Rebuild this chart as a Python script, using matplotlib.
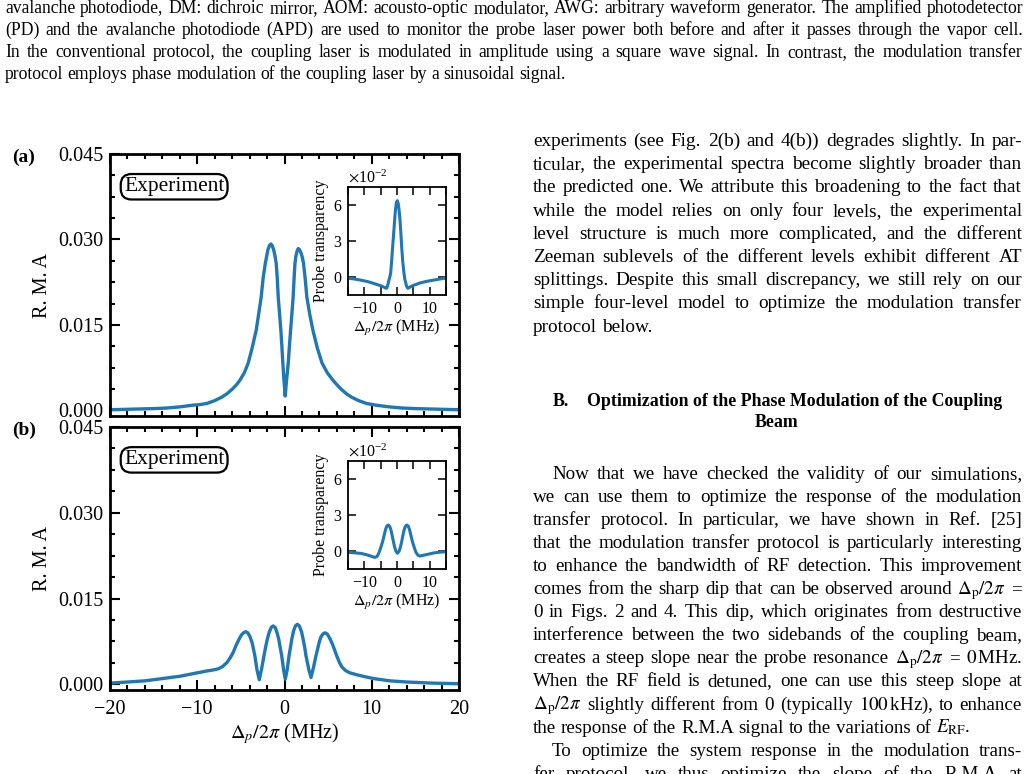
import matplotlib
matplotlib.use("Agg")
import matplotlib.pyplot as plt
from matplotlib.ticker import FixedLocator, MultipleLocator, AutoMinorLocator, FormatStrFormatter, ScalarFormatter

plt.rcParams['font.family'] = ['Liberation Serif', 'DejaVu Serif']
plt.rcParams['mathtext.fontset'] = 'stix'

# ---- data ----
det_a = [-20, -17.5, -15, -13.5, -12, -10.5, -9.7, -8.9, -8, -7.2, -6.6, -6.0, -5.5, -5.1, -4.6,
         -4.16, -3.7, -3.24, -2.95, -2.67, -2.45, -2.2, -1.9, -1.7, -1.55, -1.4, -1.25, -1.1,
         -0.95, -0.83, -0.72, -0.57, -0.42, -0.3, -0.19, -0.05, 0.08, 0.22, 0.43, 0.56, 0.7,
         0.85, 0.99, 1.1, 1.2, 1.3, 1.45, 1.57, 1.72, 1.9, 2.05, 2.18, 2.38, 2.56, 2.9, 3.25,
         3.75, 4.3, 4.9, 5.54, 6.0, 6.5, 7.1, 7.7, 8.5, 9.4, 10.5, 12, 13.5, 15, 17.5, 20]
rma_a = [0.0001, 0.0002, 0.0003, 0.0004, 0.0006, 0.0009, 0.0010, 0.0012, 0.0017, 0.0023,
         0.0029, 0.0037, 0.0045, 0.0053, 0.0066, 0.0083, 0.0110, 0.0141, 0.0170, 0.0199,
         0.0232, 0.0258, 0.0282, 0.0290, 0.0292, 0.0289, 0.0282, 0.0272, 0.0258, 0.0232,
         0.0199, 0.0170, 0.0141, 0.0112, 0.0083, 0.0050, 0.0025, 0.0050, 0.0083, 0.0112,
         0.0141, 0.0170, 0.0199, 0.0232, 0.0258, 0.0270, 0.0280, 0.0284, 0.0282, 0.0276,
         0.0268, 0.0258, 0.0230, 0.0199, 0.0168, 0.0141, 0.0110, 0.0083, 0.0066, 0.0053,
         0.0045, 0.0037, 0.0029, 0.0023, 0.0017, 0.0012, 0.0009, 0.0006, 0.0004, 0.0003,
         0.0002, 0.0001]

det_b = [-20, -18, -16, -14, -12, -11, -10, -9, -8.2, -7.6, -7.1, -6.6, -6.2, -5.9, -5.55, -5.2,
         -4.95, -4.7, -4.45, -4.2, -3.95, -3.7, -3.4, -3.15, -2.89, -2.65, -2.35, -2.15, -1.97,
         -1.75, -1.5, -1.28, -1.05, -0.85, -0.65, -0.5, -0.32, -0.1, 0.09, 0.3, 0.52, 0.7, 0.85,
         1.05, 1.25, 1.47, 1.7, 1.95, 2.12, 2.3, 2.46, 2.8, 3.04, 3.3, 3.61, 3.8, 3.95, 4.15,
         4.4, 4.64, 4.9, 5.2, 5.5, 5.98, 6.3, 6.6, 7.0, 7.5, 8.2, 9.0, 10.2, 12.1, 14, 17, 20]
rma_b = [0.0002, 0.0004, 0.0006, 0.0010, 0.0014, 0.0017, 0.0020, 0.0023, 0.0025, 0.0027,
         0.0031, 0.0038, 0.0047, 0.0055, 0.0068, 0.0079, 0.0086, 0.0090, 0.0092, 0.0090,
         0.0083, 0.0072, 0.0050, 0.0025, 0.0008, 0.0025, 0.0050, 0.0066, 0.0079, 0.0091,
         0.0100, 0.0102, 0.0099, 0.0090, 0.0078, 0.0065, 0.0050, 0.0025, 0.0009, 0.0025,
         0.0050, 0.0066, 0.0080, 0.0094, 0.0102, 0.0105, 0.0102, 0.0092, 0.0080, 0.0066,
         0.0050, 0.0025, 0.0012, 0.0028, 0.0050, 0.0062, 0.0072, 0.0082, 0.0088, 0.0090,
         0.0088, 0.0080, 0.0070, 0.0050, 0.0038, 0.0030, 0.0024, 0.0020, 0.0017, 0.0014,
         0.0010, 0.0006, 0.0004, 0.0002, 0.0001]

ins_det_a = [-15, -13, -11.3, -9, -7.2, -6, -4.7, -4.0, -3.5, -3.2, -2.9, -2.6, -2.3, -1.94,
             -1.65, -1.33, -1.0, -0.72, -0.5, -0.3, -0.15, 0.1, 0.35, 0.5, 0.7, 0.92, 1.15,
             1.43, 1.75, 2.14, 2.4, 2.7, 2.9, 3.3, 3.7, 4.2, 5.0, 6.0, 7.0, 8.5, 10.1, 12.5, 15]
ins_a = [-0.0010, -0.0017, -0.0025, -0.0038, -0.0053, -0.0064, -0.0075, -0.0085, -0.0092,
         -0.0094, -0.0075, -0.0040, -0.0010, 0.0031, 0.0130, 0.0253, 0.0370, 0.0475, 0.0550,
         0.0600, 0.0625, 0.0636, 0.0615, 0.0590, 0.0540, 0.0475, 0.0380, 0.0253, 0.0130,
         0.0031, -0.0020, -0.0050, -0.0075, -0.0094, -0.0090, -0.0080, -0.0070, -0.0060,
         -0.0050, -0.0040, -0.0031, -0.0020, -0.0008]

ins_det_b = [-15, -13, -11, -9.5, -8.5, -7.5, -6.7, -6.1, -5.7, -5.4, -4.9, -4.4, -3.9, -3.5,
             -3.1, -2.65, -2.2, -1.8, -1.45, -1.1, -0.75, -0.35, 0.16, 0.67, 1.07, 1.43, 1.77,
             2.12, 2.52, 2.97, 3.42, 3.82, 4.22, 4.72, 5.22, 5.72, 6.02, 6.42, 7.0, 8.0, 9.5,
             11.5, 13, 15]
ins_b = [-0.0011, -0.0015, -0.0020, -0.0030, -0.0038, -0.0048, -0.0053, -0.0045, -0.0025,
         -0.0006, 0.0035, 0.0078, 0.0135, 0.0180, 0.0208, 0.0217, 0.0203, 0.0170, 0.0125,
         0.0078, 0.0035, 0.0000, -0.0019, 0.0000, 0.0035, 0.0078, 0.0125, 0.0170, 0.0203,
         0.0217, 0.0208, 0.0180, 0.0135, 0.0078, 0.0035, -0.0006, -0.0020, -0.0035, -0.0042,
         -0.0036, -0.0027, -0.0015, -0.0010, -0.0006]

main_yticks = [0.0, 0.015, 0.030, 0.045]
inset_yticks = [0.0, 0.03, 0.06]
panel_tags = ['(a)', '(b)']

caption = [
    "avalanche photodiode, DM: dichroic mirror, AOM: acousto-optic modulator, AWG: arbitrary waveform generator.  The amplified photodetector",
    "(PD) and the avalanche photodiode (APD) are used to monitor the probe laser power both before and after it passes through the vapor cell.",
    "In the conventional protocol, the coupling laser is modulated in amplitude using a square wave signal.  In contrast, the modulation transfer",
    "protocol employs phase modulation of the coupling laser by a sinusoidal signal.",
]
para1 = [
    "experiments (see Fig. 2(b) and 4(b)) degrades slightly. In par-",
    "ticular, the experimental spectra become slightly broader than",
    "the predicted one. We attribute this broadening to the fact that",
    "while the model relies on only four levels, the experimental",
    "level structure is much more complicated, and the different",
    "Zeeman sublevels of the different levels exhibit different AT",
    "splittings. Despite this small discrepancy, we still rely on our",
    "simple four-level model to optimize the modulation transfer",
    "protocol below.",
]
para2 = [
    "Now that we have checked the validity of our simulations,",
    "we can use them to optimize the response of the modulation",
    "transfer protocol.  In particular, we have shown in Ref. [25]",
    "that the modulation transfer protocol is particularly interesting",
    "to enhance the bandwidth of RF detection. This improvement",
    r"comes from the sharp dip that can be observed around $\Delta_\mathrm{p}/2\pi$ =",
    "0 in Figs. 2 and 4. This dip, which originates from destructive",
    "interference between the two sidebands of the coupling beam,",
    r"creates a steep slope near the probe resonance $\Delta_\mathrm{p}/2\pi$ = $0\,$MHz.",
    "When the RF field is detuned, one can use this steep slope at",
    r"$\Delta_\mathrm{p}/2\pi$ slightly different from 0 (typically $100\,$kHz), to enhance",
    r"the response of the R.M.A signal to the variations of $E_\mathrm{RF}$.",
    "To optimize the system response in the modulation trans-",
    "fer protocol, we thus optimize the slope of the R.M.A at",
]

W, H = 1029, 774
fig = plt.figure(figsize=(W / 100, H / 100), dpi=100)
renderer = fig.canvas.get_renderer()
blue = '#1f77b4'


def box(l, t, r, b):
    return [l / W, 1 - b / H, (r - l) / W, (b - t) / H]


def text_w(s, size, weight='normal'):
    t = fig.text(0, 0, s, fontsize=size, fontweight=weight)
    w = t.get_window_extent(renderer).width
    t.remove()
    return w


def block(lines, x0, x1, ys, size, last_free, indents=()):
    # justified text lines, words placed one by one
    space = text_w('a a', size) - text_w('aa', size)
    scale = 1.0
    for i, s in enumerate(lines):
        if i in last_free:
            continue
        words = s.split()
        nat = sum(text_w(w, size) for w in words) + space * (len(words) - 1)
        avail = x1 - x0 - (indents[i] if i < len(indents) else 0)
        scale = min(scale, avail / nat)
    size = size * min(1.0, scale * 0.99)
    space = text_w('a a', size) - text_w('aa', size)
    for i, (s, y) in enumerate(zip(lines, ys)):
        ind = indents[i] if i < len(indents) else 0
        words = s.split()
        ws = [text_w(w, size) for w in words]
        if i in last_free or len(words) < 2:
            gap = space
        else:
            gap = (x1 - x0 - ind - sum(ws)) / (len(words) - 1)
        x = x0 + ind
        for w, wd in zip(words, ws):
            fig.text(x / W, 1 - y / H, w, fontsize=size, va='baseline', ha='left')
            x += wd + gap


# ---- page text ----
block(caption, 5, 1023, [13, 35, 57, 79], 13, last_free={3})
block(para1, 533, 1022, [146 + 23.2 * i for i in range(9)], 14, last_free={8})
fig.text(553 / W, 1 - 406 / H, 'B.', fontsize=12.9, fontweight='bold', va='baseline')
fig.text(587 / W, 1 - 406 / H, 'Optimization of the Phase Modulation of the Coupling',
         fontsize=12.9, fontweight='bold', va='baseline')
fig.text(777 / W, 1 - 427 / H, 'Beam', fontsize=12.9, fontweight='bold', va='baseline', ha='center')
ind2 = [19, 0, 0, 0, 0, 0, 0, 0, 0, 0, 0, 0, 19, 0]
block(para2, 533, 1022, [479 + 23.05 * i for i in range(14)], 14, last_free={11}, indents=ind2)

# ---- figure panels ----
panels = [
    (154, 416, det_a, rma_a, 187, 295, ins_det_a, ins_a),
    (427, 690, det_b, rma_b, 461, 569, ins_det_b, ins_b),
]
for k, (top, bot, xs, ys, itop, ibot, ixs, iys) in enumerate(panels):
    ax = fig.add_axes(box(110, top, 459, bot))
    ax.plot(xs, ys, color=blue, lw=2.4, solid_joinstyle='round')
    ax.set_xlim(-20, 20)
    ax.set_ylim(-0.001, 0.045)
    ax.xaxis.set_major_locator(MultipleLocator(10))
    ax.xaxis.set_minor_locator(MultipleLocator(2))
    ax.yaxis.set_major_locator(FixedLocator(main_yticks))
    ax.yaxis.set_minor_locator(AutoMinorLocator(4))
    ax.yaxis.set_major_formatter(FormatStrFormatter('%.3f'))
    for s in ax.spines.values():
        s.set_linewidth(2.0)
    ax.tick_params(which='both', direction='in', top=True, right=True, width=1.5,
                   labelsize=14.5, pad=5)
    ax.tick_params(which='major', length=7)
    ax.tick_params(which='minor', length=3.5)
    ax.tick_params(axis='x', pad=7)
    ax.set_ylabel('R. M. A', fontsize=14.5, labelpad=4)
    if k == 0:
        ax.tick_params(labelbottom=False)
    else:
        ax.set_xlabel(r'$\Delta_p/2\pi$ (MHz)', fontsize=14.5, labelpad=2)
    ax.text(0.04, 0.875, 'Experiment', transform=ax.transAxes, fontsize=15.5,
            va='center', ha='left',
            bbox=dict(boxstyle='round,pad=0.15,rounding_size=0.5', fc='white', ec='black', lw=1.6))
    fig.text(12 / W, 1 - (top + 8) / H, panel_tags[k], fontsize=14, fontweight='bold',
             va='baseline', ha='left')

    ins = fig.add_axes(box(348, itop, 446, ibot))
    ins.plot(ixs, iys, color=blue, lw=2.2, solid_joinstyle='round')
    ins.set_xlim(-15, 15)
    ins.set_ylim(-0.015, 0.075)
    ins.xaxis.set_major_locator(MultipleLocator(10))
    ins.xaxis.set_minor_locator(MultipleLocator(5))
    ins.yaxis.set_major_locator(FixedLocator(inset_yticks))
    fmt = ScalarFormatter(useMathText=True)
    fmt.set_powerlimits((-1, 1))
    ins.yaxis.set_major_formatter(fmt)
    ins.yaxis.get_offset_text().set_fontsize(11.5)
    for s in ins.spines.values():
        s.set_linewidth(1.3)
    ins.tick_params(which='both', direction='in', top=True, right=True, width=1.1,
                    labelsize=11.5, pad=4)
    ins.tick_params(which='major', length=6)
    ins.tick_params(which='minor', length=6)
    ins.set_ylabel('Probe transparency', fontsize=11.5, labelpad=3)
    ins.set_xlabel(r'$\Delta_p/2\pi$ (MHz)', fontsize=11.5, labelpad=1)

fig.savefig('out.png', dpi=100)
